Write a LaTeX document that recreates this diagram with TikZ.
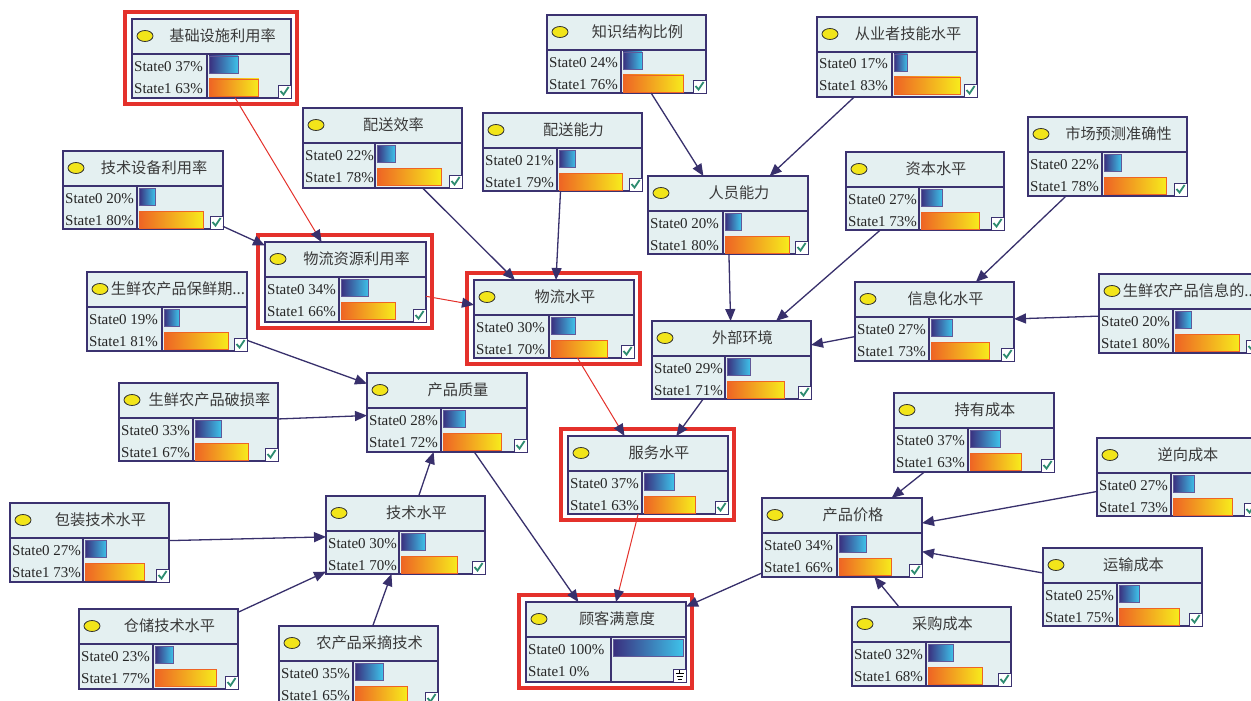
\documentclass[tikz,border=0pt]{standalone}
\usepackage{fontspec}
\setmainfont{Liberation Serif}
\newfontfamily\cjk{Noto Sans CJK SC}
\usetikzlibrary{arrows.meta,calc}
\definecolor{bnfill}{HTML}{E4F0F1}
\definecolor{bnline}{HTML}{3B3270}
\definecolor{bnedgec}{HTML}{38306C}
\definecolor{bnred}{HTML}{E4312B}
\definecolor{bnyel}{HTML}{F2E51A}
\definecolor{bnba}{HTML}{3A2F7E}
\definecolor{bnbb}{HTML}{3EC3EA}
\definecolor{bnoa}{HTML}{EE6424}
\definecolor{bnob}{HTML}{F7EC1C}
\definecolor{bnchkc}{HTML}{2E8C70}
\definecolor{bntxt}{HTML}{3A3A3A}
\tikzset{
 bnbox/.style={draw=bnline, fill=bnfill, line width=1.4pt, inner sep=0pt, outer sep=0pt, rectangle},
 bnsep/.style={draw=bnline, line width=1.2pt},
 bnttl/.style={font=\cjk\fontsize{15.2}{16}\selectfont, text=bntxt, inner sep=0pt},
 bnst/.style={font=\fontsize{15}{16}\selectfont, anchor=base west, inner sep=0pt, text=black!85},
 bnbar0/.style={left color=bnba, right color=bnbb, draw=bnba!80, line width=0.8pt},
 bnbar1/.style={left color=bnoa, right color=bnob, draw=bnoa, line width=0.8pt},
 bnedge/.style={draw=bnedgec, line width=1.3pt, -{Triangle[length=12pt,width=10pt]}},
 bnredge/.style={draw=bnred, line width=1pt, -{Triangle[length=12pt,width=10pt,color=bnedgec]}},
 bnhl/.style={draw=bnred, line width=3.5pt},
}
\newcommand\iconchk[2]{%
 \draw[draw=bnline, fill=white, line width=0.8pt] (#1-13,#2-13) rectangle (#1,#2);
 \draw[draw=bnchkc, line width=1.8pt] (#1-10.5,#2-7) -- (#1-7.5,#2-3.5) -- (#1-2.5,#2-11);}
\newcommand\icongnd[2]{%
 \draw[draw=bnline, fill=white, line width=0.8pt] (#1-13,#2-13) rectangle (#1,#2);
 \draw[black, line width=0.8pt] (#1-6.5,#2-12) -- (#1-6.5,#2-8.5)
   (#1-10.5,#2-8.5) -- (#1-2.5,#2-8.5) (#1-9.5,#2-5.5) -- (#1-3.5,#2-5.5) (#1-8.5,#2-2.5) -- (#1-4.5,#2-2.5);}
% name, L, T, R, B, divx, title, p0, icon
\newcommand\bnnode[9]{%
 \node[bnbox, minimum width={(#4-#2)*1pt}, minimum height={(#5-#3)*1pt}] (#1) at ({(#2+#4)/2},{(#3+#5)/2}) {};
 \draw[bnsep] (#2,#3+35) -- (#4,#3+35);
 \draw[bnsep] (#6,#3+35) -- (#6,#5);
 \filldraw[fill=bnyel, draw=black!80, line width=0.8pt] (#2+13,#3+17) ellipse [x radius=8, y radius=5.5];
 \node[bnttl] at ({(#2+22+#4)/2},#3+17) {#7};
 \node[bnst] at (#2+2,#3+52) {State0 #8\%};
 \node[bnst] at (#2+2,#3+74) {State1 \the\numexpr100-#8\relax\%};
 \ifnum#8>0 \shadedraw[bnbar0] (#6+2,#3+37) rectangle ({#6+2+(#4-#6-5)*#8/100},#3+54);\fi
 \ifnum#8<100 \shadedraw[bnbar1] (#6+2,#3+60) rectangle ({#6+2+(#4-#6-5)*(100-#8)/100},#3+77);\fi
 #9{#4}{#5}%
}
\begin{document}
\begin{tikzpicture}[x=1pt,y=-1pt]
\useasboundingbox (0,0) rectangle (1251,701);
\clip (0,0) rectangle (1251,701);
\fill[white] (0,0) rectangle (1251,701);

\bnnode{jc}{132}{19}{291}{98}{207}{基础设施利用率}{37}{\iconchk}
\bnnode{zs}{547}{15}{706}{93}{621}{知识结构比例}{24}{\iconchk}
\bnnode{cy}{817}{17}{977}{97}{892}{从业者技能水平}{17}{\iconchk}
\bnnode{psxl}{303}{108}{462}{188}{375}{配送效率}{22}{\iconchk}
\bnnode{psnl}{483}{113}{642}{191}{557}{配送能力}{21}{\iconchk}
\bnnode{jssb}{63}{151}{223}{229}{137}{技术设备利用率}{20}{\iconchk}
\bnnode{zb}{846}{152}{1004}{230}{919}{资本水平}{27}{\iconchk}
\bnnode{sc}{1028}{117}{1187}{196}{1102}{市场预测准确性}{22}{\iconchk}
\bnnode{ry}{648}{176}{808}{254}{723}{人员能力}{20}{\iconchk}
\bnnode{wlzy}{265}{242}{426}{322}{339}{物流资源利用率}{34}{\iconchk}
\bnnode{wlsp}{474}{280}{634}{358}{549}{物流水平}{30}{\iconchk}
\bnnode{bxq}{87}{272}{247}{351}{162}{生鲜农产品保鲜期...}{19}{\iconchk}
\bnnode{xxh}{855}{282}{1014}{361}{929}{信息化水平}{27}{\iconchk}
\bnnode{xxd}{1099}{274}{1259}{353}{1173}{生鲜农产品信息的...}{20}{\iconchk}
\bnnode{wb}{652}{321}{811}{399}{725}{外部环境}{29}{\iconchk}
\bnnode{zl}{367}{373}{527}{452}{441}{产品质量}{28}{\iconchk}
\bnnode{psl}{119}{383}{278}{461}{193}{生鲜农产品破损率}{33}{\iconchk}
\bnnode{cyc}{894}{393}{1054}{472}{968}{持有成本}{37}{\iconchk}
\bnnode{fw}{568}{436}{728}{514}{642}{服务水平}{37}{\iconchk}
\bnnode{nx}{1097}{438}{1257}{516}{1171}{逆向成本}{27}{\iconchk}
\bnnode{bz}{10}{503}{169}{582}{83}{包装技术水平}{27}{\iconchk}
\bnnode{js}{326}{496}{485}{574}{399}{技术水平}{30}{\iconchk}
\bnnode{jg}{762}{498}{922}{577}{837}{产品价格}{34}{\iconchk}
\bnnode{ys}{1043}{548}{1202}{626}{1117}{运输成本}{25}{\iconchk}
\bnnode{cc}{79}{609}{238}{689}{153}{仓储技术水平}{23}{\iconchk}
\bnnode{cz}{279}{626}{438}{705}{353}{农产品采摘技术}{35}{\iconchk}
\bnnode{gk}{526}{602}{686}{682}{611}{顾客满意度}{100}{\icongnd}
\bnnode{cg}{852}{607}{1011}{686}{926}{采购成本}{32}{\iconchk}

% highlight frames
\foreach \n in {jc,wlzy,wlsp,fw,gk}
  \draw[bnhl] ($(\n.north west)+(-7,-7)$) rectangle ($(\n.south east)+(6,6)$);

% connectors
\draw[bnredge] (jc) -- (wlzy);
\draw[bnedge] (jssb) -- (wlzy);
\draw[bnredge] (wlzy) -- (wlsp);
\draw[bnedge] (psxl) -- (wlsp);
\draw[bnedge] (psnl) -- (wlsp);
\draw[bnedge] (zs) -- (ry);
\draw[bnedge] (cy) -- (ry);
\draw[bnedge] (ry) -- (wb);
\draw[bnedge] (zb) -- (wb);
\draw[bnedge] (sc) -- (xxh);
\draw[bnedge] (xxd) -- (xxh);
\draw[bnedge] (xxh) -- (wb);
\draw[bnedge] (wb) -- (fw);
\draw[bnredge] (wlsp) -- (fw);
\draw[bnredge] (fw) -- (gk);
\draw[bnedge] (zl) -- (gk);
\draw[bnedge] (jg) -- (gk);
\draw[bnedge] (cyc) -- (jg);
\draw[bnedge] (nx) -- (jg);
\draw[bnedge] (ys) -- (jg);
\draw[bnedge] (cg) -- (jg);
\draw[bnedge] (bxq) -- (zl);
\draw[bnedge] (psl) -- (zl);
\draw[bnedge] (js) -- (zl);
\draw[bnedge] (bz) -- (js);
\draw[bnedge] (cc) -- (js);
\draw[bnedge] (cz) -- (js);
\end{tikzpicture}
\end{document}
